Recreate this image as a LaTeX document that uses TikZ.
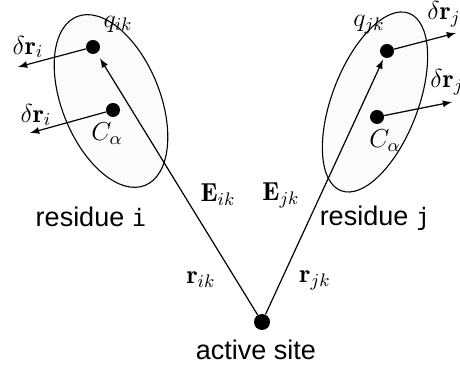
\RequirePackage{fix-cm}
\documentclass[tikz,border=0pt]{standalone}
\usepackage{amsmath,amssymb}
\usepackage{fontspec}
\setsansfont{Liberation Sans}
\setmonofont{DejaVu Sans Mono}

\tikzset{
    resid/.style={line width=0.55pt, fill=black!1.5},
    dot/.style={circle, fill=black, inner sep=0pt, minimum size=7pt},
    vec/.style={-latex, line width=0.6pt},
    lbl/.style={inner sep=0pt, font=\fontsize{13}{15}\selectfont},
    txt/.style={inner sep=0pt, font=\sffamily\fontsize{13.5}{16}\selectfont}
}

\begin{document}
\begin{tikzpicture}[x=0.5pt, y=-0.5pt]
    \useasboundingbox (0,0) rectangle (460,367);

    % residues
    \coordinate (celli) at (111,101);
    \coordinate (cellj) at (375,102);
    \draw[resid, rotate around={22:(celli)}] (celli) ellipse [x radius=24.5pt, y radius=45.5pt];
    \draw[resid, rotate around={-21:(cellj)}] (cellj) ellipse [x radius=21.5pt, y radius=47.5pt];

    \node[dot] (qi) at (93,47) {};
    \node[dot] (ci) at (113,110) {};
    \node[dot] (qj) at (387,51) {};
    \node[dot] (cj) at (377,117) {};
    \node[dot, minimum size=8pt] (site) at (262,322) {};

    % displacements
    \coordinate (dqi) at (18,67);
    \coordinate (dci) at (30,133);
    \coordinate (dqj) at (456,33);
    \coordinate (dcj) at (452,102);
    \draw[vec] (qi) -- (dqi);
    \draw[vec] (ci) -- (dci);
    \draw[vec] (qj) -- (dqj);
    \draw[vec] (cj) -- (dcj);

    \draw[vec, shorten >=3pt] (site) -- (qi);
    \draw[vec, shorten >=1pt] (site) -- (qj);

    \node[lbl] (lqi) at (118,24) {$q_{ik}$};
    \node[lbl] (lci) at (107,134) {$C_\alpha$};
    \node[lbl] (lqj) at (369,25) {$q_{jk}$};
    \node[lbl] (lcj) at (385,141) {$C_\alpha$};
    \node[lbl] (ldqi) at (28,47) {$\delta\mathbf{r}_i$};
    \node[lbl] (ldci) at (36,115) {$\delta\mathbf{r}_i$};
    \node[lbl, anchor=west] (ldqj) at (427,14) {$\delta\mathbf{r}_j$};
    \node[lbl, anchor=west] (ldcj) at (430,82) {$\delta\mathbf{r}_j$};
    \node[lbl] (lei) at (218,195) {$\mathbf{E}_{ik}$};
    \node[lbl] (lej) at (281,195) {$\mathbf{E}_{jk}$};
    \node[lbl] (lri) at (201,280) {$\mathbf{r}_{ik}$};
    \node[lbl] (lrj) at (315,280) {$\mathbf{r}_{jk}$};

    \node[txt] (resi) at (91,217) {residue {\ttfamily\fontsize{12}{14}\selectfont i}};
    \node[txt] (resj) at (375,218) {residue {\ttfamily\fontsize{12}{14}\selectfont j}};
    \node[txt] (actsite) at (256,350) {active site};

\end{tikzpicture}
\end{document}
